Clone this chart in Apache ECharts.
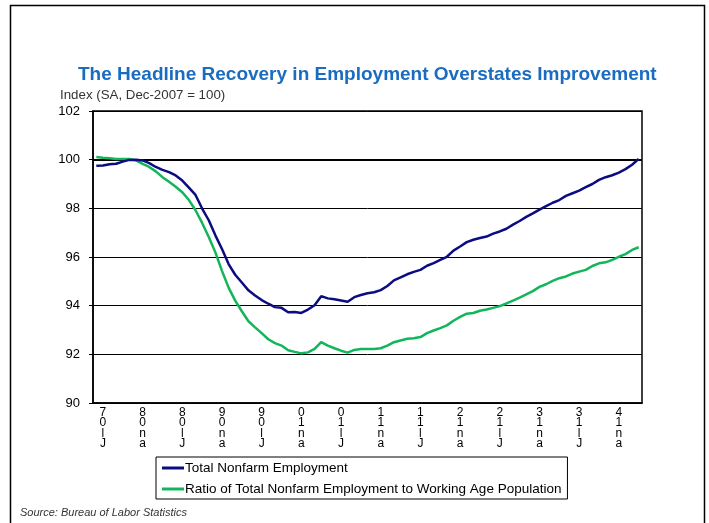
<!DOCTYPE html>
<html>
<head>
<meta charset="utf-8">
<script src="https://cdn.jsdelivr.net/npm/echarts@6/dist/echarts.min.js"></script>
<style>
  html, body { margin: 0; padding: 0; background: #fff; }
  #chart { width: 709px; height: 523px; }
</style>
</head>
<body>
<div id="chart"></div>
<script>
// monthly, Jun-2007 .. Apr-2014
var months = [
  'Jun-07','Jul-07','Aug-07','Sep-07','Oct-07','Nov-07','Dec-07',
  'Jan-08','Feb-08','Mar-08','Apr-08','May-08','Jun-08','Jul-08','Aug-08','Sep-08','Oct-08','Nov-08','Dec-08',
  'Jan-09','Feb-09','Mar-09','Apr-09','May-09','Jun-09','Jul-09','Aug-09','Sep-09','Oct-09','Nov-09','Dec-09',
  'Jan-10','Feb-10','Mar-10','Apr-10','May-10','Jun-10','Jul-10','Aug-10','Sep-10','Oct-10','Nov-10','Dec-10',
  'Jan-11','Feb-11','Mar-11','Apr-11','May-11','Jun-11','Jul-11','Aug-11','Sep-11','Oct-11','Nov-11','Dec-11',
  'Jan-12','Feb-12','Mar-12','Apr-12','May-12','Jun-12','Jul-12','Aug-12','Sep-12','Oct-12','Nov-12','Dec-12',
  'Jan-13','Feb-13','Mar-13','Apr-13','May-13','Jun-13','Jul-13','Aug-13','Sep-13','Oct-13','Nov-13','Dec-13',
  'Jan-14','Feb-14','Mar-14','Apr-14'
];

var totalNonfarm = [
  99.75, 99.76, 99.81, 99.83, 99.92, 99.99, 100.0,
  99.97, 99.86, 99.70, 99.58, 99.49, 99.35, 99.14, 98.85, 98.55, 97.99, 97.51, 96.89,
  96.33, 95.71, 95.27, 94.95, 94.63, 94.42, 94.23, 94.08, 93.94, 93.91, 93.73, 93.74,
  93.70, 93.84, 94.02, 94.39, 94.30, 94.26, 94.21, 94.16, 94.35, 94.44, 94.51, 94.55,
  94.64, 94.81, 95.04, 95.16, 95.29, 95.39, 95.47, 95.64, 95.75, 95.88, 96.01, 96.26,
  96.43, 96.61, 96.71, 96.78, 96.84, 96.96, 97.05, 97.16, 97.33, 97.48, 97.65, 97.79,
  97.95, 98.09, 98.23, 98.34, 98.51, 98.62, 98.73, 98.87, 99.00, 99.17, 99.28, 99.36,
  99.47, 99.61, 99.79, 100.03
];

var ratioToPop = [
  100.11, 100.08, 100.06, 100.03, 100.03, 100.03, 99.97,
  99.83, 99.70, 99.52, 99.28, 99.09, 98.89, 98.66, 98.34, 97.92, 97.40, 96.82, 96.19,
  95.43, 94.74, 94.21, 93.77, 93.36, 93.11, 92.87, 92.62, 92.46, 92.36, 92.17, 92.10,
  92.04, 92.08, 92.22, 92.50, 92.36, 92.25, 92.15, 92.07, 92.18, 92.22, 92.22, 92.22,
  92.25, 92.36, 92.50, 92.57, 92.64, 92.66, 92.71, 92.87, 92.98, 93.08, 93.19, 93.38,
  93.54, 93.67, 93.70, 93.79, 93.84, 93.91, 93.98, 94.09, 94.21, 94.33, 94.46, 94.60,
  94.77, 94.88, 95.02, 95.13, 95.20, 95.32, 95.40, 95.47, 95.63, 95.74, 95.78, 95.88,
  96.01, 96.12, 96.29, 96.40
];

var seriesNames = [
  'Total Nonfarm Employment',
  'Ratio of Total Nonfarm Employment to Working Age Population'
];

var yTicks = [90, 92, 94, 96, 98, 100, 102];

var FONT = 'Liberation Sans, Arial, sans-serif';

function isLabelMonth(idx) {
  var m = months[idx].slice(0, 3);
  return m === 'Jan' || m === 'Jul';
}

// the source chart prints each label as stacked, mangled glyphs
function stackedLabel(v) {
  var m = v.slice(0, 3), yy = v.slice(4);
  if (m === 'Jul') return yy[1] + '\n' + yy[0] + '\nl\nJ';
  return yy[1] + '\n' + yy[0] + '\nn\na';
}

var chart = echarts.init(document.getElementById('chart'));
chart.setOption({
  backgroundColor: '#fff',
  animation: false,
  textStyle: { fontFamily: FONT },
  title: [{
    text: 'The Headline Recovery in Employment Overstates Improvement',
    left: 73,
    top: 60,
    textStyle: { color: '#1a6cc0', fontSize: 19, fontWeight: 'bold', fontFamily: FONT }
  }, {
    text: 'Index (SA, Dec-2007 = 100)',
    left: 55,
    top: 84,
    textStyle: { color: '#333', fontSize: 13.3, fontWeight: 'normal', fontFamily: FONT }
  }, {
    text: 'Source: Bureau of Labor Statistics',
    left: 15,
    top: 502,
    textStyle: { color: '#333', fontSize: 11, fontStyle: 'italic', fontWeight: 'normal', fontFamily: FONT }
  }],
  graphic: [{
    type: 'rect',
    shape: { x: 10.5, y: 5.5, width: 694, height: 540 },
    style: { fill: null, stroke: '#000', lineWidth: 1.5 },
    silent: true
  }],
  legend: {
    orient: 'vertical',
    left: 156,
    top: 457,
    data: seriesNames,
    icon: 'rect',
    itemWidth: 22,
    itemHeight: 3,
    itemGap: 7,
    padding: [4, 6, 3, 6],
    borderColor: '#000',
    borderWidth: 1,
    textStyle: { color: '#000', fontSize: 13.5, padding: [0, 0, 0, -4] }
  },
  grid: {
    left: 93, right: 67, top: 111, bottom: 120,
    show: true, borderColor: '#000', borderWidth: 1.5
  },
  xAxis: [{
    type: 'category',
    data: months,
    boundaryGap: true,
    axisLine: { lineStyle: { color: '#000', width: 1.5 } },
    axisTick: { alignWithLabel: true, interval: 0, length: 3, lineStyle: { color: '#000' } },
    axisLabel: {
      interval: function (idx) { return isLabelMonth(idx); },
      formatter: stackedLabel,
      color: '#000', fontSize: 12, lineHeight: 10.5, margin: 4
    },
    splitLine: { show: false }
  }, {
    type: 'category',
    data: months,
    boundaryGap: true,
    position: 'bottom',
    axisLine: { show: false },
    axisTick: {
      alignWithLabel: true,
      interval: function (idx) { return isLabelMonth(idx); },
      length: 6, lineStyle: { color: '#000', width: 1.5 }
    },
    axisLabel: { show: false },
    splitLine: { show: false }
  }],
  yAxis: {
    type: 'value',
    min: yTicks[0],
    max: yTicks[yTicks.length - 1],
    interval: 2,
    axisLine: { show: true, lineStyle: { color: '#000', width: 1.5 } },
    axisTick: { show: true, length: 4, lineStyle: { color: '#000' } },
    axisLabel: { color: '#000', fontSize: 13, margin: 13 },
    splitLine: { lineStyle: { color: '#000', width: 1 } }
  },
  series: [{
    name: seriesNames[1],
    type: 'line',
    data: ratioToPop,
    showSymbol: false,
    itemStyle: { color: '#12b65a' },
    lineStyle: { color: '#12b65a', width: 2.5 },
    z: 3
  }, {
    name: seriesNames[0],
    type: 'line',
    data: totalNonfarm,
    showSymbol: false,
    itemStyle: { color: '#0c0c82' },
    lineStyle: { color: '#0c0c82', width: 2.5 },
    z: 4,
    markLine: {
      silent: true,
      symbol: 'none',
      label: { show: false },
      lineStyle: { color: '#000', width: 2, type: 'solid' },
      data: [{ yAxis: 100 }],
      z: 2
    }
  }]
});
</script>
</body>
</html>
